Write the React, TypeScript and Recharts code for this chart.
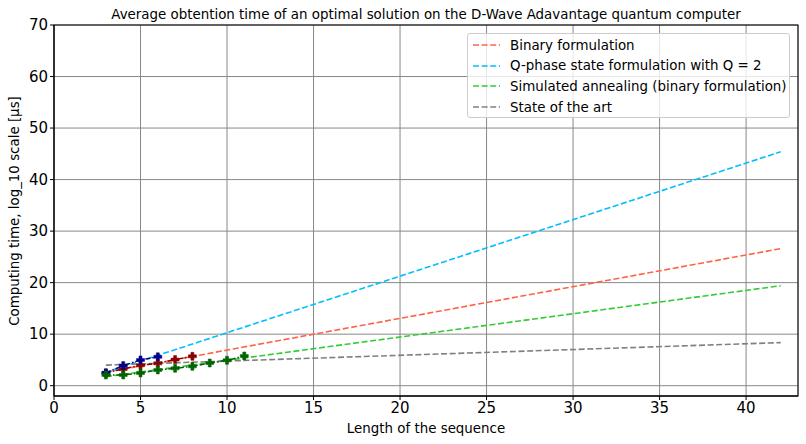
import { ComposedChart, Line, XAxis, YAxis, CartesianGrid } from "recharts"

// measured points (sequence length -> log10 time)
const binaryX = [3, 4, 5, 6, 7, 8]
const binaryY = [2.47, 3.25, 3.95, 4.34, 5.06, 5.7]
const qphaseX = [3, 4, 5, 6]
const qphaseY = [2.5, 3.9, 5.0, 5.6]
const annealX = [3, 4, 5, 6, 7, 8, 9, 10, 11]
const annealY = [2.08, 2.08, 2.47, 3.05, 3.37, 3.75, 4.41, 4.92, 5.77]

// fitted trends, end points
const fitX = [3, 42]
const binaryFitY = [2.6, 26.6]
const qphaseFitY = [2.6, 45.4]
const annealFitY = [1.75, 19.4]
const stateArtFitY = [4.0, 8.36]

const xTicks = [0, 5, 10, 15, 20, 25, 30, 35, 40]
const yTicks = [0, 10, 20, 30, 40, 50, 60, 70]

const LEGEND = [
  { name: "Binary formulation", color: "#ff6347" },
  { name: "Q-phase state formulation with Q = 2", color: "#00bfff" },
  { name: "Simulated annealing (binary formulation)", color: "#32cd32" },
  { name: "State of the art", color: "#808080" },
]

const FONT = "'DejaVu Sans', sans-serif"

const toRows = (xs: number[], ys: number[]) => xs.map((x, i) => ({ x, y: ys[i] }))

function PlusDot(props: any) {
  const { cx, cy, fill } = props
  if (cx == null || cy == null) return null
  const s = 4
  const w = 1.5
  const d = `M${cx - w},${cy - s}H${cx + w}V${cy - w}H${cx + s}V${cy + w}H${cx + w}V${cy + s}H${cx - w}V${cy + w}H${cx - s}V${cy - w}H${cx - w}Z`
  return <path d={d} fill={fill} stroke={fill} strokeWidth={0.5} />
}

export default function App() {
  return (
    <div style={{ position: "absolute", left: 0, top: 0, width: 806, height: 444, background: "#fff", fontFamily: FONT }}>
      <ComposedChart width={806} height={444} margin={{ top: 25, right: 8, bottom: 18, left: 0 }}>
        <CartesianGrid stroke="#888" strokeWidth={1} />
        <XAxis
          type="number"
          dataKey="x"
          domain={[0, 43]}
          ticks={xTicks}
          allowDataOverflow
          height={30}
          stroke="#000"
          tickSize={4}
          tick={{ fill: "#000", fontSize: 15, fontFamily: FONT }}
          tickLine={{ stroke: "#000" }}
        />
        <YAxis
          type="number"
          domain={[-2, 70]}
          ticks={yTicks}
          allowDataOverflow
          width={54}
          stroke="#000"
          tickSize={4}
          tick={{ fill: "#000", fontSize: 15, fontFamily: FONT }}
          tickLine={{ stroke: "#000" }}
        />
        <Line data={toRows(fitX, binaryFitY)} dataKey="y" stroke="#ff6347" strokeWidth={1.6} strokeDasharray="6 2.6" dot={false} isAnimationActive={false} />
        <Line data={toRows(fitX, qphaseFitY)} dataKey="y" stroke="#00bfff" strokeWidth={1.6} strokeDasharray="6 2.6" dot={false} isAnimationActive={false} />
        <Line data={toRows(fitX, annealFitY)} dataKey="y" stroke="#32cd32" strokeWidth={1.6} strokeDasharray="6 2.6" dot={false} isAnimationActive={false} />
        <Line data={toRows(fitX, stateArtFitY)} dataKey="y" stroke="#808080" strokeWidth={1.6} strokeDasharray="6 2.6" dot={false} isAnimationActive={false} />
        <Line data={toRows(binaryX, binaryY)} dataKey="y" stroke="#8b0000" strokeWidth={1.5} strokeDasharray="5 2 1.5 2" dot={<PlusDot fill="#8b0000" />} isAnimationActive={false} />
        <Line data={toRows(qphaseX, qphaseY)} dataKey="y" stroke="#00008b" strokeWidth={1.5} strokeDasharray="5 2 1.5 2" dot={<PlusDot fill="#00008b" />} isAnimationActive={false} />
        <Line data={toRows(annealX, annealY)} dataKey="y" stroke="#006400" strokeWidth={1.5} strokeDasharray="5 2 1.5 2" dot={<PlusDot fill="#006400" />} isAnimationActive={false} />
        <text x={426} y={19} textAnchor="middle" fontSize={13.4} fontFamily={FONT} fill="#000">
          Average obtention time of an optimal solution on the D-Wave Adavantage quantum computer
        </text>
        <text x={426} y={433} textAnchor="middle" fontSize={13.4} fontFamily={FONT} fill="#000">
          Length of the sequence
        </text>
        <text x={19} y={211} transform="rotate(-90 19 211)" textAnchor="middle" fontSize={13.4} fontFamily={FONT} fill="#000">
          Computing time, log_10 scale [µs]
        </text>
        <rect x={54} y={25} width={744} height={371} fill="none" stroke="#000" strokeWidth={1} />
      </ComposedChart>
      <div
        style={{
          position: "absolute",
          left: 467,
          top: 33,
          width: 323,
          height: 85,
          boxSizing: "border-box",
          border: "1px solid #ccc",
          borderRadius: 3,
          background: "rgba(255,255,255,0.8)",
          padding: "1px 0 0 5px",
        }}
      >
        {LEGEND.map((e) => (
          <div key={e.name} style={{ display: "flex", alignItems: "center", height: 20.6, fontSize: 13.4, color: "#000" }}>
            <svg width={32} height={10} style={{ marginRight: 5, flexShrink: 0 }}>
              <line x1={0} y1={5} x2={27} y2={5} stroke={e.color} strokeWidth={1.6} strokeDasharray="6 2.6" />
            </svg>
            <span style={{ whiteSpace: "nowrap" }}>{e.name}</span>
          </div>
        ))}
      </div>
    </div>
  )
}
